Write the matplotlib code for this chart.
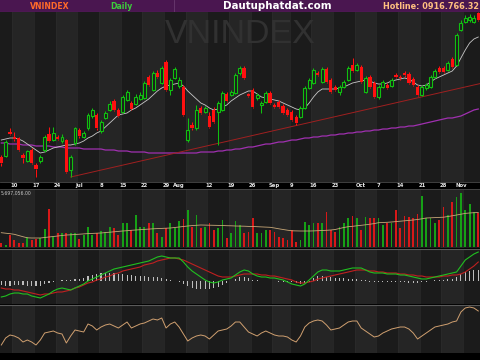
import matplotlib
matplotlib.use('Agg')
import matplotlib.pyplot as plt
import numpy as np
import pandas as pd
from matplotlib.lines import Line2D

# ---------------- data ----------------
holidays = ['2019-09-02']
dates = [d for d in pd.bdate_range('2019-06-05', '2019-11-07')
         if d.strftime('%Y-%m-%d') not in holidays]

opens = [1143,1144,1168,1163,1162,1145,1139,1150,1135,1139,
         1150,1166,1160,1163,1159,1160,1130,1157,1170,1163,
         1172,1184,1185,1169,1182,1190,1199,1190,1188,1200,
         1197,1196,1201,1202,1223,1210,1227,1217,1238,1210,
         1222,1214,1213,1160,1175,1172,1192,1188,1184,1190,
         1188,1190,1206,1205,1207,1227,1232,1206,1210,1202,
         1195,1198,1207,1195,1198,1194,1190,1188,1183,1183,
         1192,1212,1217,1227,1218,1231,1220,1213,1208,1213,
         1220,1235,1230,1233,1208,1223,1217,1203,1213,1215,
         1214,1225,1223,1227,1226,1221,1213,1205,1212,1213,
         1223,1232,1232,1230,1241,1235,1270,1278,1280,1278,
         1287]
highs = [1145,1160,1172,1168,1163,1147,1150,1152,1137,1145,
         1165,1173,1173,1165,1166,1161,1145,1173,1172,1169,
         1187,1192,1187,1180,1189,1199,1201,1192,1205,1210,
         1199,1206,1208,1219,1225,1229,1230,1234,1240,1222,
         1233,1223,1215,1182,1178,1195,1194,1194,1188,1193,
         1199,1209,1208,1210,1227,1234,1234,1207,1212,1207,
         1199,1209,1209,1197,1200,1196,1192,1190,1185,1194,
         1214,1222,1232,1229,1233,1233,1222,1215,1215,1220,
         1234,1242,1237,1235,1224,1225,1219,1215,1220,1217,
         1222,1227,1225,1229,1228,1223,1215,1215,1217,1225,
         1231,1234,1234,1239,1243,1267,1280,1285,1286,1285,
         1288]
lows = [1134,1143,1165,1159,1149,1137,1138,1136,1123,1137,
        1148,1158,1159,1160,1157,1127,1123,1155,1162,1162,
        1170,1182,1170,1167,1181,1189,1189,1183,1187,1199,
        1190,1195,1200,1201,1214,1209,1222,1216,1209,1205,
        1221,1212,1184,1158,1170,1170,1186,1187,1172,1177,
        1155,1189,1198,1204,1206,1225,1221,1203,1192,1200,
        1187,1197,1196,1192,1192,1186,1184,1179,1175,1182,
        1191,1211,1216,1224,1217,1217,1207,1209,1205,1212,
        1219,1228,1229,1217,1207,1212,1202,1201,1212,1211,
        1213,1222,1220,1223,1216,1214,1204,1204,1210,1212,
        1222,1227,1227,1229,1232,1234,1269,1277,1278,1277,
        1279]
closes = [1137,1158,1166,1161,1150,1142,1149,1137,1131,1143,
          1163,1159,1167,1161,1163,1128,1143,1172,1164,1167,
          1185,1190,1172,1178,1187,1196,1190,1184,1203,1208,
          1191,1203,1205,1217,1215,1227,1223,1232,1210,1220,
          1231,1220,1185,1170,1172,1190,1187,1192,1173,1178,
          1197,1207,1199,1208,1225,1232,1222,1204,1193,1205,
          1197,1207,1197,1193,1193,1187,1185,1180,1177,1192,
          1212,1220,1230,1225,1231,1218,1208,1210,1213,1218,
          1232,1229,1235,1218,1222,1213,1203,1213,1218,1212,
          1220,1223,1222,1225,1217,1215,1205,1213,1215,1223,
          1229,1228,1228,1237,1233,1265,1277,1282,1283,1282,
          1280]
ma_short = [1160,1161,1162,1162,1161,1159,1156,1153,1150,1147,
            1148,1150,1152,1153,1154,1155,1155,1156,1157,1159,
            1162,1164,1167,1169,1173,1177,1181,1185,1186,1187,
            1190,1192,1195,1198,1201,1205,1209,1212,1214,1215,
            1216,1217,1214,1209,1205,1201,1197,1195,1192,1190,
            1191,1193,1195,1199,1202,1205,1207,1209,1209,1206,
            1203,1202,1201,1200,1199,1197,1195,1193,1191,1190,
            1192,1197,1203,1208,1211,1211,1211,1211,1212,1213,
            1215,1217,1218,1219,1220,1219,1217,1216,1216,1217,
            1219,1220,1221,1222,1221,1218,1215,1214,1215,1218,
            1221,1223,1225,1227,1229,1234,1242,1250,1257,1261,
            1263]
ma_long = [1157,1157,1156,1156,1156,1155,1155,1155,1154,1154,
           1154,1154,1153,1153,1153,1152,1152,1152,1152,1151,
           1151,1151,1151,1151,1150,1150,1150,1149,1149,1149,
           1148,1148,1148,1148,1147,1147,1147,1147,1147,1147,
           1147,1147,1147,1147,1147,1147,1148,1148,1148,1148,
           1149,1149,1150,1150,1151,1151,1152,1153,1153,1154,
           1155,1156,1156,1157,1158,1158,1159,1160,1160,1161,
           1162,1162,1163,1163,1164,1164,1165,1165,1166,1166,
           1167,1167,1168,1168,1169,1169,1170,1170,1171,1171,
           1172,1172,1173,1173,1174,1174,1175,1176,1177,1178,
           1179,1180,1181,1182,1182,1183,1184,1186,1188,1190,
           1191]
trend_dates = ['2019-06-27', '2019-11-07']
trend_prices = [1123, 1216]

volume = [37,20,120,70,40,40,100,70,80,90,
          180,380,100,140,140,140,140,140,80,120,
          200,120,140,160,150,200,190,120,240,240,
          170,320,200,200,240,240,140,100,190,240,
          190,257,280,367,200,320,190,200,240,170,
          190,270,90,140,257,220,137,153,287,137,
          137,170,170,153,103,87,70,170,50,70,
          253,220,237,237,237,353,170,153,203,237,
          287,310,287,170,303,287,287,287,220,237,
          237,370,187,310,303,287,330,510,287,287,
          237,270,397,320,453,503,537,370,430,350,
          337]
vol_ma = [143,138,133,127,115,103,92,90,90,90,
          95,100,105,110,115,120,122,125,128,131,
          134,136,138,140,144,148,152,156,160,163,
          167,170,173,176,179,182,184,186,188,190,
          195,200,205,210,214,217,220,219,218,217,
          216,215,213,212,210,209,208,206,205,203,
          201,199,197,190,182,175,168,162,161,160,
          160,160,161,163,165,167,170,175,185,195,
          203,207,212,217,222,228,234,243,245,247,
          250,254,258,262,266,270,275,282,290,292,
          294,296,298,305,312,320,328,336,340,343,
          345]
vol_label = '5,697,056.00'

macd = [-16,-15,-13,-12,-12,-13,-13,-15,-16,-17,
        -15,-13,-10,-8,-7,-8,-9,-7,-5,-3,
        0,2,4,6,8,10,12,13,14,15,
        16,17,18,19,20,22,24,25,24,23,
        23,23,19,14,10,7,4,1,-1,-2,
        -1,1,2,3,6,9,11,10,7,5,
        4,4,3,3,2,1,-1,-3,-4,-5,
        -3,1,5,9,11,11,10,10,10,11,
        12,13,13,13,11,9,8,8,8,7,
        7,7,6,6,5,4,3,2,2,3,
        4,5,6,7,8,9,15,21,24,27,
        29]
signal = [-7,-8,-8,-9,-9,-10,-11,-12,-13,-14,
          -13,-13,-12,-11,-11,-10,-9,-7,-6,-4,
          -2,-1,1,2,4,5,7,8,10,11,
          12,13,14,16,17,18,20,21,22,23,
          23,22,21,19,17,15,13,11,9,7,
          5,4,4,4,5,6,7,7,7,7,
          6,6,5,5,4,3,2,1,-1,-2,
          -2,-1,0,2,3,4,5,6,7,8,
          9,10,11,11,11,10,10,9,9,8,
          8,8,7,7,6,6,5,5,4,4,
          4,4,5,5,6,6,7,9,12,15,
          19]
hist = [-4,-5,-5,-4,-4,-4,-5,-5,-5,-5,
        -3,-2,-1,0,1,1,1,2,2,3,
        5,6,7,8,8,8,8,7,7,6,
        6,5,5,5,4,4,4,3,2,1,
        0,-1,-3,-5,-7,-8,-8,-8,-8,-7,
        -6,-4,-2,0,2,4,4,3,1,1,
        0,0,0,0,-1,-1,-1,-1,-2,-3,
        -2,-1,3,5,5,4,4,3,3,3,
        2,2,2,1,1,-1,-1,-1,-1,-1,
        -1,-1,-1,-1,-2,-2,-2,-1,-1,0,
        1,1,1,2,2,4,7,9,10,11,
        11]
rsi = [35,42,45,44,42,38,40,38,35,40,
       47,48,49,47,46,37,44,50,49,48,
       56,54,50,53,55,56,54,52,55,58,
       52,54,56,57,59,61,60,62,52,56,
       58,53,46,39,42,44,45,44,41,45,
       49,50,51,54,58,58,53,48,46,44,
       47,49,47,45,44,44,43,40,38,44,
       53,57,59,60,59,55,50,51,52,55,
       58,59,59,52,49,46,43,44,47,49,
       51,52,53,53,51,47,41,44,47,50,
       53,54,55,56,58,59,68,72,73,72,
       69]

tick_dates = ['2019-06-10','2019-06-17','2019-06-24','2019-07-01','2019-07-08',
              '2019-07-15','2019-07-22','2019-07-29','2019-08-01','2019-08-12',
              '2019-08-19','2019-08-26','2019-09-03','2019-09-09','2019-09-16',
              '2019-09-23','2019-10-01','2019-10-07','2019-10-14','2019-10-21',
              '2019-10-28','2019-11-01']
tick_labels = ['10','17','24','Jul','8','15','22','29','Aug','12','19','26',
               'Sep','9','16','23','Oct','7','14','21','28','Nov']

# ---------------- styling ----------------
BG_DARK = '#1b1b1b'
BG_LIGHT = '#252525'
GREEN = '#10c010'
RED = '#ff1010'

date_str = [d.strftime('%Y-%m-%d') for d in dates]
n = len(dates)
x = np.arange(n)
o = np.array(opens, float); c = np.array(closes, float)
h = np.array(highs, float); l = np.array(lows, float)
up = c >= o

fig = plt.figure(figsize=(4.8, 3.6), dpi=100)
fig.patch.set_facecolor('#000000')
H = 360.0

def ax_at(top, bottom):
    ax = fig.add_axes([0, 1 - bottom / H, 1, (bottom - top) / H])
    ax.set_xlim(-0.3, n - 0.6)
    ax.set_xticks([]); ax.set_yticks([])
    for s in ax.spines.values():
        s.set_visible(False)
    return ax

ax_title = ax_at(0, 12)
ax_main = ax_at(12, 182)
ax_date = ax_at(182, 189)
ax_vol = ax_at(189, 248)
ax_macd = ax_at(249, 304)
ax_rsi = ax_at(305, 353)

# weekly bands
weeks = [d.isocalendar()[1] for d in dates]
groups = []
start = 0
for i in range(1, n + 1):
    if i == n or weeks[i] != weeks[start]:
        groups.append((start, i - 1))
        start = i
for ax in (ax_main, ax_vol, ax_macd, ax_rsi):
    ax.set_facecolor(BG_DARK)
    for k, (a, b) in enumerate(groups):
        col = BG_LIGHT if k % 2 == 1 else BG_DARK
        ax.axvspan(a - 0.5, b + 0.5, color=col, lw=0, zorder=0)
        ax.axvline(a - 0.5, color='#2c2c2c', lw=0.5, zorder=0.5)

# title bar
ax_title.set_facecolor('#4a1650')
ax_title.set_xlim(0, 480); ax_title.set_ylim(12, 0)
ax_title.axhline(11.6, color='#7a4a80', lw=0.8)
ax_title.axvline(174, color='#6a3a70', lw=0.6)
ax_title.text(50, 6.2, 'VNINDEX', color='#ff6a2a', fontsize=5.6, fontweight='bold', ha='center', va='center')
ax_title.text(121, 6.2, 'Daily', color='#3ccc3c', fontsize=5.6, fontweight='bold', ha='center', va='center')
ax_title.text(277, 6.2, 'Dautuphatdat.com', color='#ffffff', fontsize=7.4, fontweight='bold', ha='center', va='center')
ax_title.text(479, 6.2, 'Hotline: 0916.766.32', color='#ffc080', fontsize=5.9, fontweight='bold', ha='right', va='center')

# main panel
ax_main.set_ylim(1118, 1288)
ax_main.text(0.5, 0.865, 'VNINDEX', transform=ax_main.transAxes, ha='center', va='center',
             fontsize=24.5, color='#313131', family=['Liberation Sans Narrow', 'Liberation Sans'], zorder=1)
ax_main.plot(x, ma_long, color='#a030b0', lw=0.9, zorder=2)
ti = [date_str.index(d) for d in trend_dates]
slope = (trend_prices[1] - trend_prices[0]) / (ti[1] - ti[0])
tx = np.array([ti[0], n + 1])
ax_main.plot(tx, trend_prices[0] + slope * (tx - ti[0]), color='#a02020', lw=0.7, zorder=2)
ax_main.plot(x, ma_short, color='#c8c8c8', lw=0.6, zorder=3)

body_lo = np.minimum(o, c); body_hi = np.maximum(o, c)
ax_main.vlines(x, l, body_lo, colors=np.where(up, GREEN, RED), lw=0.75, zorder=4)
ax_main.vlines(x, body_hi, h, colors=np.where(up, GREEN, RED), lw=0.75, zorder=4)
hgt = np.maximum(body_hi - body_lo, 1.0)
ax_main.bar(x[up], hgt[up], bottom=body_lo[up], width=0.68, facecolor=BG_DARK,
            edgecolor=GREEN, lw=0.8, zorder=5)
ax_main.bar(x[~up], hgt[~up], bottom=body_lo[~up], width=0.76, color=RED, lw=0, zorder=5)

# date strip
ax_date.set_facecolor('#000000')
ax_date.set_ylim(0, 1)
for d, lab in zip(tick_dates, tick_labels):
    ax_date.text(date_str.index(d), 0.5, lab, color='#e8e8e8', fontsize=3.8,
                 fontweight='bold', ha='center', va='center')
for yy in (182, 189):
    fig.add_artist(Line2D([0, 1], [1 - yy / H, 1 - yy / H], color='#4a4a4a', lw=0.6))

# volume
ax_vol.set_ylim(-10, 580)
ax_vol.bar(x, volume, width=0.42, color=np.where(up, '#16a016', '#d81818'), lw=0, zorder=3)
ax_vol.plot(x, vol_ma, color='#c8a878', lw=0.6, zorder=4)
ax_vol.text(0.002, 0.975, vol_label, transform=ax_vol.transAxes, color='#c8c8c8',
            fontsize=3.3, ha='left', va='top')

# MACD
ax_macd.set_ylim(-23, 32)
ax_macd.bar(x, hist, width=0.25, color='#bdbdbd', lw=0, zorder=3)
ax_macd.plot(x, signal, color='#c02020', lw=0.8, zorder=4)
ax_macd.plot(x, macd, color='#20c020', lw=0.8, zorder=5)

# RSI
ax_rsi.set_ylim(27, 75)
ax_rsi.plot(x, rsi, color='#d0a070', lw=0.7, zorder=4)

for yy in (248.5, 304.5):
    fig.add_artist(Line2D([0, 1], [1 - yy / H, 1 - yy / H], color='#5a5a5a', lw=0.8))

fig.savefig('out.png', dpi=100, facecolor=fig.get_facecolor())
